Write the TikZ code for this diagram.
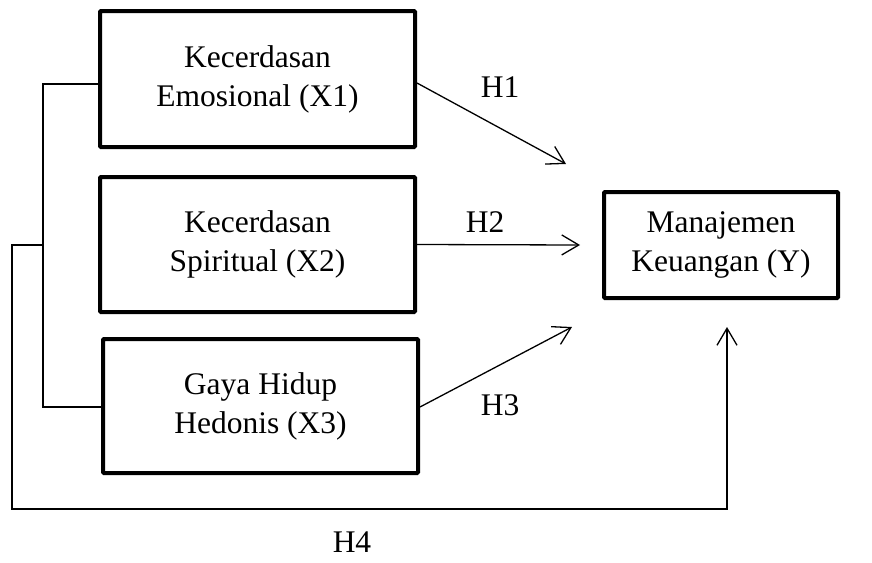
\documentclass[tikz,border=0pt]{standalone}
\usepackage{fontspec}
\setmainfont{Liberation Serif}
\usetikzlibrary{arrows.meta}
\begin{document}
\begin{tikzpicture}[x=1pt,y=-1pt,
  box/.style={draw,line width=4pt,rounded corners=1pt,align=center,inner sep=0pt,
    font=\fontsize{31.5}{39}\selectfont},
  conn/.style={line width=1.3pt},
  arr/.style={conn,-{Straight Barb[length=17pt,width=20pt,line width=1.3pt]}},
  lbl/.style={font=\fontsize{31.5}{35}\selectfont,inner sep=0pt,anchor=base,text depth=0pt}]
\useasboundingbox (0,0) rectangle (872,562);
\node[box,minimum width=315pt,minimum height=136pt] (X1) at (257.5,79) {Kecerdasan\\Emosional (X1)};
\node[box,minimum width=315pt,minimum height=135pt] (X2) at (257.5,244.5) {Kecerdasan\\Spiritual (X2)};
\node[box,minimum width=315pt,minimum height=134pt] (X3) at (260.5,406) {Gaya Hidup\\Hedonis (X3)};
\node[box,minimum width=234pt,minimum height=106pt] (Y) at (721,245) {Manajemen\\Keuangan (Y)};
\coordinate (t1) at (566,164);
\coordinate (t2) at (580,245);
\coordinate (t3) at (572,327);
\coordinate (b1) at (43,84);
\coordinate (b2) at (43,407);
\coordinate (bm) at (43,245);
\coordinate (l1) at (12,245);
\coordinate (l2) at (12,509);
\coordinate (t4) at (727,327);
\draw[arr] ([yshift=-4pt]X1.east) -- (t1);
\draw[arr] (X2.east) -- (t2);
\draw[arr] ([yshift=-1pt]X3.east) -- (t3);
\draw[conn] ([yshift=-5pt]X1.west) -- (b1) -- (b2) -- ([yshift=-1pt]X3.west);
\draw[arr] (bm) -- (l1) -- (l2) -| (t4);
\node[lbl] (h1) at (500,97) {H1};
\node[lbl] (h2) at (485,232) {H2};
\node[lbl] (h3) at (500,415) {H3};
\node[lbl] (h4) at (352,552) {H4};
\end{tikzpicture}
\end{document}
